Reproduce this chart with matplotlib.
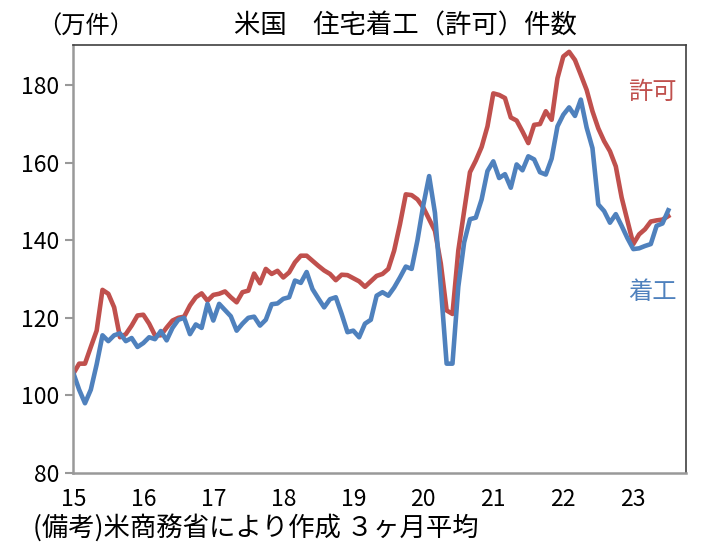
import numpy as np
from matplotlib import pyplot as plt

plt.rcParams['font.family'] = ['Noto Sans CJK JP', 'DejaVu Sans']

# monthly, Jan 2015 .. Jul 2023, 3-month average [10k units]
starts = [105.8, 101.5, 98.0, 101.5, 108.0, 115.5, 114.0, 115.5, 116.0, 114.0, 114.8, 112.5,
          113.5, 115.0, 114.5, 116.6, 114.2, 117.4, 119.5, 120.0, 115.8, 118.3, 117.4, 123.6,
          119.3, 123.6, 122.0, 120.4, 116.7, 118.5, 120.0, 120.3, 118.0, 119.5, 123.5, 123.7,
          124.9, 125.3, 129.6, 129.0, 131.8, 127.4, 125.0, 122.7, 124.8, 125.3, 121.0, 116.3,
          116.7, 115.0, 118.5, 119.5, 125.7, 126.6, 125.7, 127.8, 130.4, 133.2, 132.6, 140.0,
          149.0, 156.5, 147.0, 128.0, 108.2, 108.2, 128.0, 139.4, 145.4, 145.8, 150.5, 157.8,
          160.3, 156.0, 157.0, 153.5, 159.5, 158.0, 161.6, 160.8, 157.5, 156.9, 161.0, 169.3,
          172.3, 174.2, 172.0, 176.2, 169.0, 163.7, 149.2, 147.5, 144.5, 146.7, 143.7, 140.5,
          137.7, 137.9, 138.5, 139.0, 143.7, 144.3, 147.7]

permits = [105.6, 108.2, 108.2, 112.5, 116.7, 127.2, 126.2, 122.7, 115.0, 115.8, 118.0, 120.6,
           120.8, 118.5, 115.5, 115.5, 117.5, 119.3, 120.0, 120.3, 123.2, 125.3, 126.3, 124.4,
           125.9, 126.2, 126.8, 125.3, 124.0, 126.6, 127.0, 131.4, 128.9, 132.6, 131.3, 132.1,
           130.4, 131.7, 134.3, 136.0, 136.0, 134.7, 133.4, 132.2, 131.3, 129.7, 131.1, 131.0,
           130.2, 129.4, 128.0, 129.4, 130.8, 131.3, 132.6, 137.3, 144.1, 151.8, 151.6, 150.5,
           148.4, 145.4, 142.4, 134.0, 121.9, 121.0, 137.3, 147.5, 157.5, 160.5, 164.0, 169.3,
           177.8, 177.4, 176.6, 171.6, 170.8, 168.0, 165.0, 169.7, 169.9, 173.2, 171.0, 181.7,
           187.3, 188.5, 186.4, 182.6, 178.7, 173.2, 168.8, 165.5, 162.9, 159.0, 151.0, 145.0,
           139.0, 141.5, 142.8, 144.8, 145.1, 145.3, 146.2]

yearLabels = ['15', '16', '17', '18', '19', '20', '21', '22', '23']

red = '#C0504D'
blue = '#4F81BD'

months = np.arange(len(starts))

fig = plt.figure(figsize=(7.07, 5.47), dpi=100)
ax = fig.add_axes([0.1037, 0.135, 0.8663, 0.783])

ax.plot(months, permits, color=red, lw=3.3, solid_joinstyle='round')
ax.plot(months, starts, color=blue, lw=3.3, solid_joinstyle='round')

ax.set_xlim(0, 105)
ax.set_ylim(80, 190.3)
ax.set_yticks(np.arange(80, 181, 20))
ax.set_xticks(np.arange(len(yearLabels)) * 12)
ax.set_xticklabels(yearLabels)

ax.tick_params(axis='y', direction='out', length=6, width=1.5, color='#999999', labelsize=16.5, pad=4)
ax.tick_params(axis='x', length=0, labelsize=16.5, pad=11)

for side in ['left', 'bottom']:
    ax.spines[side].set_color('#999999')
    ax.spines[side].set_linewidth(1.8)
for side in ['top', 'right']:
    ax.spines[side].set_color('#404040')
    ax.spines[side].set_linewidth(1.2)

# series labels
ax.text(0.985, 0.89, '許可', transform=ax.transAxes, color=red, fontsize=17.5, ha='right', va='center')
ax.text(0.985, 0.423, '着工', transform=ax.transAxes, color=blue, fontsize=17.5, ha='right', va='center')

# title, unit and source note
fig.text(0.574, 0.952, '米国　住宅着工（許可）件数', fontsize=19, ha='center', va='center')
fig.text(0.053, 0.952, '（万件）', fontsize=17.5, ha='left', va='center')
fig.text(0.047, 0.036, '(備考)米商務省により作成 ３ヶ月平均', fontsize=19, ha='left', va='center')

fig.savefig('out.png', dpi=100)
